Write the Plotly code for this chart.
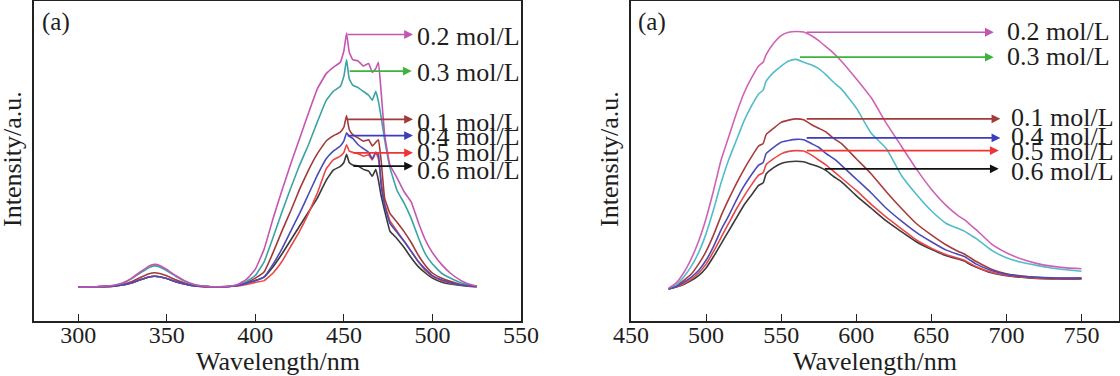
import plotly.graph_objects as go

# ---------------- data: left panel (excitation) ----------------
L_WL = [300, 310, 320, 325, 330, 335, 340, 343, 346, 350,
        355, 360, 365, 370, 375, 380, 385, 390, 395, 400,
        405, 410, 415, 420, 425, 430, 435, 440, 444, 448,
        450, 451.5, 453, 455, 458, 461, 464, 466, 468, 469.5,
        471, 473, 476, 480, 484, 488, 492, 496, 500, 505,
        510, 515, 520, 525]

L_02 = [0, 0.1, 0.7, 1.6, 3.4, 5.9, 8.3, 8.9, 8.5, 6.9,
        4.5, 2.5, 1.1, 0.4, 0.1, 0.1, 0.3, 1.0, 3.0, 7.0,
        15, 27, 38, 48.5, 58.5, 68.5, 78, 84, 86.5, 88.5,
        93, 100, 92.5, 89.5, 89, 87, 88, 84.5, 86, 88.5,
        77, 60, 48, 43, 37.5, 33.5, 25.5, 18.5, 13.5, 9,
        5.5, 3, 1.3, 0.4]
L_03 = [0, 0.1, 0.6, 1.5, 3.2, 5.5, 7.7, 8.3, 7.9, 6.4,
        4.2, 2.3, 1.0, 0.4, 0.1, 0.1, 0.2, 0.8, 2.2, 4.5,
        10, 19.5, 29.5, 39, 48, 56, 65, 73.5, 77, 79,
        83, 89.5, 82, 79.5, 78.5, 77, 75.5, 73.5, 77, 73,
        67, 58, 47, 38, 33, 27, 19.5, 13, 9, 5.5,
        3.5, 2, 0.9, 0.3]
L_01 = [0, 0.1, 0.45, 1.0, 2.1, 3.7, 5.2, 5.6, 5.3, 4.4,
        2.8, 1.6, 0.7, 0.25, 0.1, 0.1, 0.2, 0.6, 1.8, 3.5,
        6, 13.5, 22, 30, 38.5, 46, 52.5, 57.5, 59.5, 61,
        63, 67.5, 62, 60, 58.7, 57.4, 58, 55.5, 57, 58,
        50, 35, 29, 25.5, 21.8, 17.5, 12.5, 8.5, 5.5, 3.5,
        2.2, 1.2, 0.6, 0.2]
L_04 = [0, 0.1, 0.35, 0.75, 1.6, 2.8, 3.9, 4.2, 4.0, 3.3,
        2.1, 1.2, 0.5, 0.2, 0.1, 0.1, 0.2, 0.6, 1.5, 2.5,
        4, 9, 15, 22, 29, 36.5, 44, 50.5, 53.5, 55.5,
        57.5, 60.7, 59.4, 58.5, 56, 54.5, 53, 50.5, 53, 52,
        40, 32, 25, 21.5, 18, 14, 10, 7, 4.5, 2.8,
        1.8, 1.0, 0.5, 0.2]
L_05 = [0, 0.1, 0.35, 0.75, 1.6, 2.8, 3.9, 4.2, 4.0, 3.3,
        2.1, 1.2, 0.5, 0.2, 0.1, 0.1, 0.2, 0.4, 1.0, 1.8,
        2.5, 5.5, 10, 16, 22, 29, 37, 46.5, 50, 51.5,
        53, 56, 53.5, 53, 52.5, 51.5, 52, 50, 53, 50.5,
        42, 33, 26, 22, 18, 14, 10, 6.5, 4.2, 2.5,
        1.5, 0.9, 0.4, 0.15]
L_06 = [0, 0.1, 0.35, 0.75, 1.6, 2.8, 3.9, 4.2, 4.0, 3.3,
        2.1, 1.2, 0.5, 0.2, 0.1, 0.1, 0.2, 0.6, 1.5, 2.5,
        4, 8, 13, 18.5, 24, 29.5, 35, 42, 46, 47.5,
        49, 52.2, 49, 48, 47.6, 46.3, 45.6, 43.6, 46.3, 42,
        36, 30, 22, 19, 15.5, 11.5, 8, 5.5, 3.5, 2,
        1.2, 0.7, 0.3, 0.1]

# ---------------- data: right panel (emission) ----------------
R_WL = [475, 480, 485, 490, 495, 500, 505, 510, 515, 520,
        525, 530, 535, 538, 540, 545, 550, 555, 560, 565,
        570, 575, 580, 585, 590, 600, 610, 620, 630, 640,
        650, 660, 668, 672, 676, 680, 690, 700, 710, 720,
        730, 740, 750]

R_02 = [-0.5, 1.5, 5.5, 11, 18, 27, 38, 50, 59, 68,
        76, 82, 87, 88.5, 91.5, 96, 99, 100.3, 100.6, 100.4,
        99, 97, 94.5, 92, 89, 82, 74.5, 64.5, 55.5, 46.5,
        38.5, 32, 28, 26.5, 24.5, 22.5, 17, 13.5, 11, 9.3,
        8.2, 7.5, 7.2]
R_03 = [-0.7, 0.8, 3.8, 8, 13.5, 21, 30.5, 41, 50, 57.5,
        65, 71, 76, 77.5, 81, 84.5, 87, 89, 89.6, 88.5,
        87.5, 86, 83.5, 80.5, 78, 70.5, 60.5, 54.5, 44, 36.5,
        30, 25, 23, 22, 20.5, 19, 14.5, 11.5, 9.7, 8.5,
        7.5, 6.8, 6.2]
R_01 = [-0.8, 0.3, 2.5, 5, 9, 14, 20.5, 28, 34.5, 40.5,
        46, 51, 55.5, 56.5, 60, 62.5, 64.8, 65.7, 66.2, 65.8,
        64, 62.5, 61, 58.5, 56.5, 50.5, 44.5, 37.5, 31, 25,
        20.5, 16.5, 14, 13, 11.5, 10, 7, 5.2, 4.3, 3.8,
        3.5, 3.4, 3.5]
R_04 = [-0.8, 0.1, 1.8, 3.8, 6.5, 10.5, 16, 22.5, 28, 34,
        39.5, 44, 48, 49, 52.5, 55, 57, 57.7, 58.1, 58,
        56.5, 55, 52.5, 50.5, 48, 42.5, 37, 31, 26, 21.5,
        17.8, 14.5, 12.8, 12, 10.5, 9, 6.5, 5, 4.2, 3.8,
        3.6, 3.5, 3.5]
R_05 = [-0.8, 0, 1.3, 3, 5.5, 9, 14, 19.5, 25, 30.5,
        35.5, 40, 44, 45, 48.2, 50.5, 52.4, 53.4, 53.7, 53.5,
        52, 50, 48, 45.5, 43, 38, 32.5, 27.5, 23, 18.5,
        15.3, 12.7, 11.3, 10.5, 9.2, 8, 5.8, 4.6, 3.9, 3.5,
        3.3, 3.2, 3.3]
R_06 = [-0.8, 0, 1, 2.5, 4.5, 7.5, 12, 17, 22, 27,
        32, 36, 40, 41, 44.5, 47, 48.6, 49.3, 49.5, 49.3,
        48.3, 47.3, 45.8, 43.5, 41.5, 36, 31, 26, 21.8, 17.8,
        14.8, 12.3, 11, 10.2, 8.8, 7.8, 5.6, 4.4, 3.8, 3.4,
        3.2, 3.1, 3.2]

X_TICKS_L = [300, 350, 400, 450, 500, 550]
X_TICKS_R = [450, 500, 550, 600, 650, 700, 750]

# ---------------- styling ----------------
FONT = "Liberation Serif, Times New Roman, serif"
TXT = "#1e1e1e"
COL_L = {"0.2": "#c455b2", "0.3": "#3aa3a3", "0.1": "#a23a3a",
         "0.4": "#4a4ab8", "0.5": "#e84848", "0.6": "#3a3a3a"}
COL_R = {"0.2": "#d062b6", "0.3": "#52bccb", "0.1": "#a83c3c",
         "0.4": "#4a4ab8", "0.5": "#e84848", "0.6": "#3a3a3a"}
ARROW_COL = {"0.2": "#c455b2", "0.3": "#3cb43c", "0.1": "#a23a3a",
             "0.4": "#3c3cc0", "0.5": "#ee3434", "0.6": "#111111"}

fig = go.Figure()

left = {"0.2": L_02, "0.3": L_03, "0.1": L_01, "0.4": L_04, "0.5": L_05, "0.6": L_06}
right = {"0.2": R_02, "0.3": R_03, "0.1": R_01, "0.4": R_04, "0.5": R_05, "0.6": R_06}
order = ["0.6", "0.5", "0.1", "0.3", "0.4", "0.2"]

for k in order:
    fig.add_trace(go.Scatter(x=L_WL, y=left[k], mode="lines", xaxis="x", yaxis="y",
                             line=dict(color=COL_L[k], width=1.6, shape="spline", smoothing=0.3),
                             showlegend=False, hoverinfo="skip"))
for k in order:
    fig.add_trace(go.Scatter(x=R_WL, y=right[k], mode="lines", xaxis="x2", yaxis="y2",
                             line=dict(color=COL_R[k], width=1.6, shape="spline", smoothing=0.5),
                             showlegend=False, hoverinfo="skip"))

# arrow annotations: (key, start x, tip x, y, text x, text y)
ARROWS_L = [("0.2", 451.2, 489.0, 99.4, 490.2, 98.7),
            ("0.3", 452.4, 488.3, 85.0, 490.2, 84.6),
            ("0.1", 451.2, 489.0, 66.0, 490.2, 64.6),
            ("0.4", 451.2, 489.0, 59.6, 490.2, 59.1),
            ("0.5", 454.5, 489.0, 52.8, 490.2, 52.8),
            ("0.6", 454.5, 489.0, 47.6, 490.2, 46.0)]
ARROWS_R = [("0.2", 566.0, 691.6, 100.3, 699.3, 100.7),
            ("0.3", 561.5, 691.6, 90.5, 699.3, 90.9),
            ("0.1", 566.0, 696.0, 66.2, 701.5, 66.6),
            ("0.4", 566.0, 696.0, 58.7, 701.5, 59.1),
            ("0.5", 566.0, 694.9, 53.7, 701.5, 53.5),
            ("0.6", 578.0, 694.9, 46.5, 701.5, 45.6)]

ann = []
for arrows, xr, yr in [(ARROWS_L, "x", "y"), (ARROWS_R, "x2", "y2")]:
    for k, xs, xt, ya, tx, ty in arrows:
        ann.append(dict(x=xt, y=ya, ax=xs, ay=ya, xref=xr, yref=yr, axref=xr, ayref=yr,
                        text="", showarrow=True, arrowhead=2, arrowsize=1.1, arrowwidth=1.6,
                        arrowcolor=ARROW_COL[k], standoff=0, startstandoff=0))
        ann.append(dict(x=tx, y=ty, xref=xr, yref=yr, text=k + " mol/L", showarrow=False,
                        xanchor="left", yanchor="middle",
                        font=dict(family=FONT, size=26, color=TXT)))

H = 376.0
W = 1120.0
for xl in [12, 609]:
    ann.append(dict(x=xl / W, y=(H - 159) / H, xref="paper", yref="paper", text="Intensity/a.u.",
                    textangle=-90, showarrow=False, xanchor="center", yanchor="middle",
                    font=dict(family=FONT, size=26, color=TXT)))
for xc in [277.5, 875]:
    ann.append(dict(x=xc / W, y=(H - 361) / H, xref="paper", yref="paper", text="Wavelength/nm",
                    showarrow=False, xanchor="center", yanchor="middle",
                    font=dict(family=FONT, size=26, color=TXT)))
for xa in [40, 636]:
    ann.append(dict(x=xa / W, y=(H - 22) / H, xref="paper", yref="paper", text="(a)",
                    showarrow=False, xanchor="left", yanchor="middle",
                    font=dict(family=FONT, size=25, color=TXT)))

yd = [(H - 321) / H, (H - 1) / H]
axis_common = dict(showline=True, linecolor="#222", linewidth=1.5, mirror=True,
                   showgrid=False, zeroline=False, ticks="inside", ticklen=7, tickwidth=1.3,
                   tickcolor="#222", ticklabelstandoff=-9,
                   tickfont=dict(family=FONT, size=24, color=TXT))
yaxis_common = dict(showline=True, linecolor="#222", linewidth=1.5, mirror=True,
                    showgrid=False, zeroline=False, showticklabels=False, ticks="",
                    range=[-13.4, 112.6], domain=yd)

fig.update_layout(
    width=1120, height=376, margin=dict(l=0, r=0, t=0, b=0, autoexpand=False),
    paper_bgcolor="white", plot_bgcolor="white",
    xaxis=dict(domain=[34 / W, 521 / W], range=[275, 550], tickvals=X_TICKS_L, anchor="y", **axis_common),
    yaxis=dict(anchor="x", **yaxis_common),
    xaxis2=dict(domain=[631 / W, 1119 / W], range=[450, 775], tickvals=X_TICKS_R, anchor="y2", **axis_common),
    yaxis2=dict(anchor="x2", **yaxis_common),
    annotations=ann,
)

fig.write_html("out.html", config={"displayModeBar": False},
               post_script="document.body.style.margin='0';document.body.style.overflow='hidden';")
